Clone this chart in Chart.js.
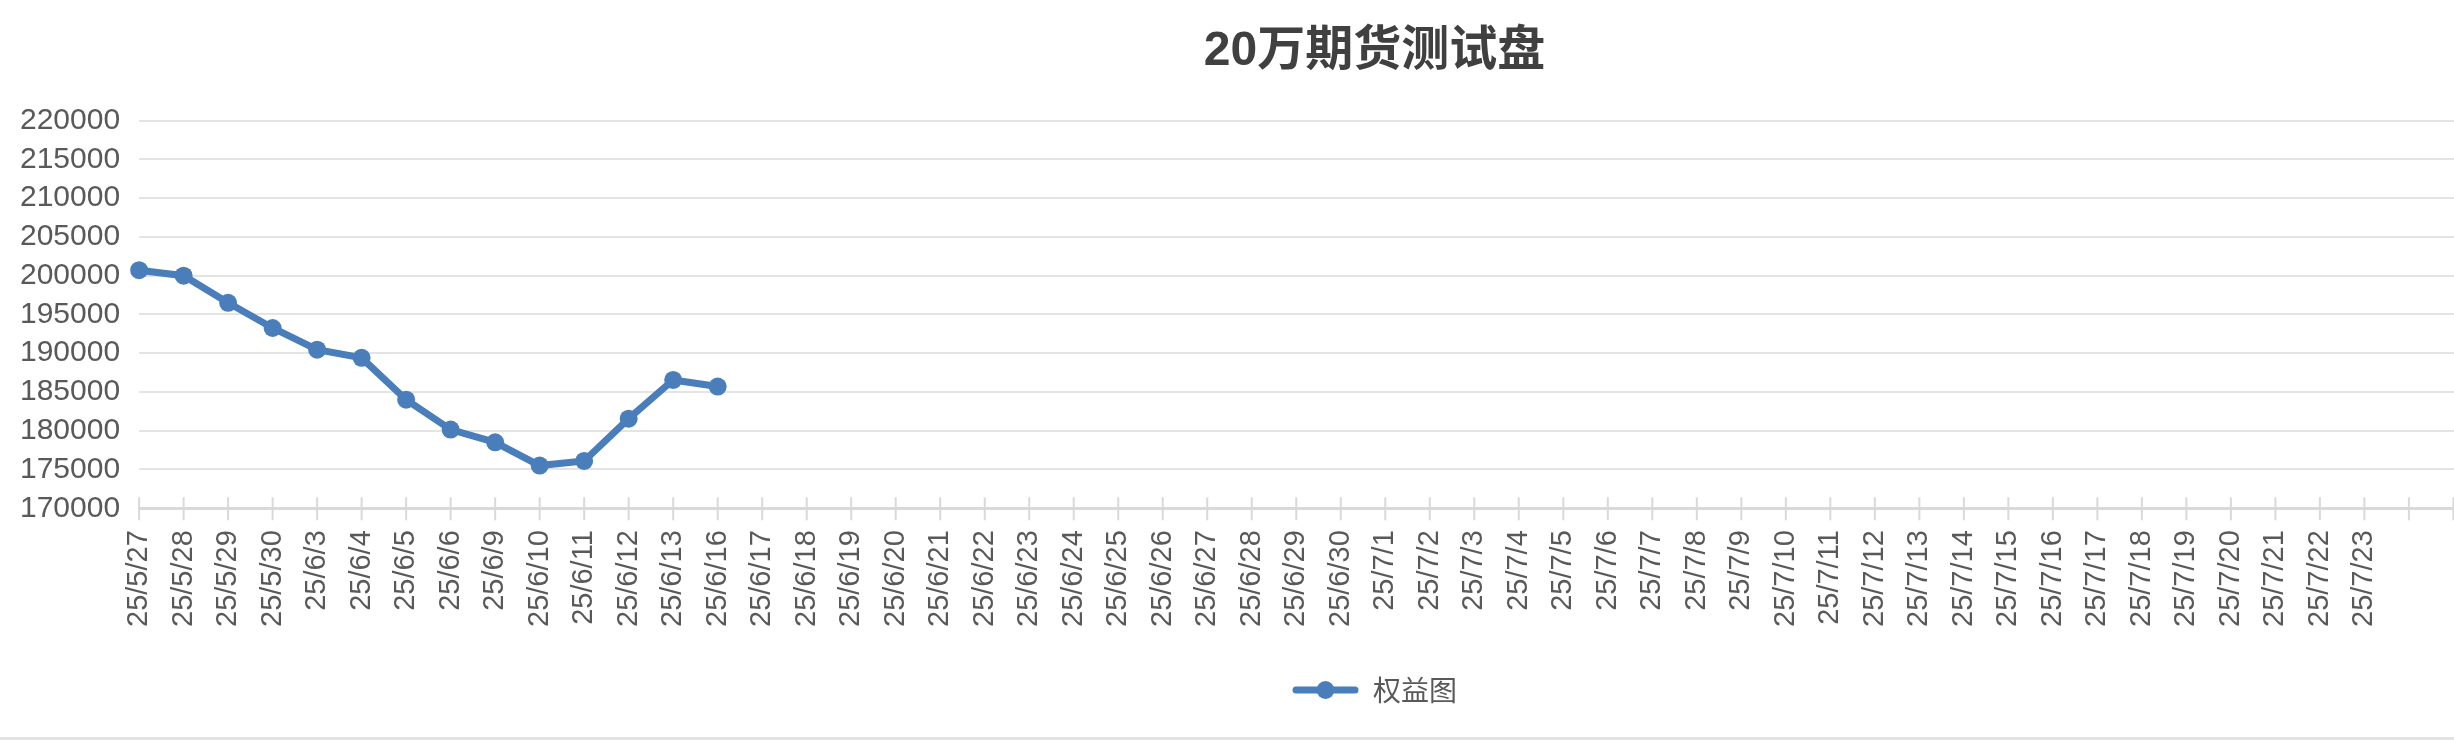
<!DOCTYPE html>
<html>
<head>
<meta charset="utf-8">
<script src="https://cdn.jsdelivr.net/npm/chart.js@4.4.1/dist/chart.umd.min.js"></script>
<style>
  html, body { margin: 0; padding: 0; background: #fff; overflow: hidden; }
  #wrap { width: 2748px; height: 737px; border-bottom: 3px solid #e2e2e2; position: relative; }
</style>
</head>
<body>
<div id="wrap"><canvas id="equityChart"></canvas></div>
<script>
// 权益图 data
const chartTitle = '20万期货测试盘';
const seriesName = '权益图';
const dates = [
    '25/5/27', '25/5/28', '25/5/29', '25/5/30', '25/6/3', '25/6/4', '25/6/5', '25/6/6',
    '25/6/9', '25/6/10', '25/6/11', '25/6/12', '25/6/13', '25/6/16', '25/6/17', '25/6/18',
    '25/6/19', '25/6/20', '25/6/21', '25/6/22', '25/6/23', '25/6/24', '25/6/25', '25/6/26',
    '25/6/27', '25/6/28', '25/6/29', '25/6/30', '25/7/1', '25/7/2', '25/7/3', '25/7/4',
    '25/7/5', '25/7/6', '25/7/7', '25/7/8', '25/7/9', '25/7/10', '25/7/11', '25/7/12',
    '25/7/13', '25/7/14', '25/7/15', '25/7/16', '25/7/17', '25/7/18', '25/7/19', '25/7/20',
    '25/7/21', '25/7/22', '25/7/23', '', '', '', '', '', '', '', ''
];
const equity = [
    200700, 200000, 196500, 193250, 190450, 189400, 184000, 180150,
    178500, 175500, 176100, 181550, 186550, 185700
];
const yMin = 170000;
const yMax = 220000;
const yStep = 5000;

const blue = '#4a7ebb';

// legend sample: line with a dot in the middle
function legendSample() {
    const c = document.createElement('canvas');
    c.width = 67;
    c.height = 22;
    const g = c.getContext('2d');
    g.strokeStyle = blue;
    g.lineWidth = 7;
    g.lineCap = 'round';
    g.beginPath();
    g.moveTo(4, 11);
    g.lineTo(63, 11);
    g.stroke();
    g.fillStyle = blue;
    g.beginPath();
    g.arc(33.5, 11, 9, 0, Math.PI * 2);
    g.fill();
    return c;
}
const sample = legendSample();

// tick marks that cross the x axis line
const crossTicks = {
    id: 'crossTicks',
    afterDatasetsDraw(chart) {
        const x = chart.scales.x;
        const y0 = chart.chartArea.bottom;
        const ctx = chart.ctx;
        ctx.save();
        ctx.strokeStyle = '#d9d9d9';
        ctx.lineWidth = 2;
        x.ticks.forEach((t, i) => {
            const px = x.getPixelForTick(i);
            ctx.beginPath();
            ctx.moveTo(px, y0 - 11);
            ctx.lineTo(px, y0 + 12);
            ctx.stroke();
        });
        ctx.restore();
    }
};

const ctx = document.getElementById('equityChart').getContext('2d');
const equityChart = new Chart(ctx, {
    type: 'line',
    data: {
        labels: dates,
        datasets: [{
            label: seriesName,
            data: equity,
            borderColor: blue,
            backgroundColor: blue,
            borderWidth: 7,
            pointRadius: 9,
            pointBackgroundColor: blue,
            pointBorderColor: blue,
            pointBorderWidth: 0,
            tension: 0,
            fill: false
        }]
    },
    options: {
        responsive: true,
        maintainAspectRatio: false,
        animation: false,
        layout: {
            padding: { left: 1, right: 0, top: 0, bottom: 23 }
        },
        plugins: {
            title: {
                display: true,
                text: chartTitle,
                color: '#404040',
                font: { family: '"Liberation Sans", "Noto Sans CJK SC"', size: 48, weight: 'bold' },
                padding: { top: 23, bottom: 40 }
            },
            legend: {
                position: 'bottom',
                labels: {
                    usePointStyle: true,
                    pointStyleWidth: 67,
                    color: '#595959',
                    font: { family: '"Noto Sans CJK SC", "Liberation Sans"', size: 28 },
                    padding: 28,
                    generateLabels(chart) {
                        const items = Chart.defaults.plugins.legend.labels.generateLabels(chart);
                        items.forEach(it => { it.pointStyle = sample; });
                        return items;
                    }
                }
            },
            tooltip: { enabled: false }
        },
        scales: {
            x: {
                offset: false,
                afterFit(scale) {
                    scale.height += 21;
                },
                grid: {
                    display: true,
                    drawOnChartArea: false,
                    drawTicks: true,
                    tickLength: 22,
                    color: 'rgba(0,0,0,0)'
                },
                border: { display: true, color: '#d9d9d9', width: 3 },
                ticks: {
                    autoSkip: false,
                    maxRotation: 90,
                    minRotation: 90,
                    padding: 0,
                    color: '#595959',
                    font: { family: '"Liberation Sans"', size: 29, lineHeight: 0.95 }
                }
            },
            y: {
                min: yMin,
                max: yMax,
                grid: { color: '#e4e4e4', lineWidth: 2, drawTicks: false },
                border: { display: false },
                ticks: {
                    stepSize: yStep,
                    autoSkip: false,
                    padding: 19,
                    color: '#595959',
                    font: { family: '"Liberation Sans"', size: 30, lineHeight: 1 },
                    callback: v => String(v)
                }
            }
        }
    },
    plugins: [crossTicks]
});
</script>
</body>
</html>
